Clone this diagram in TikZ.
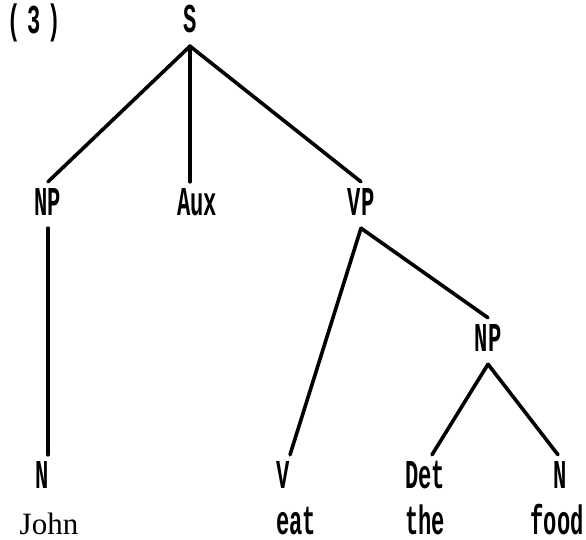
\documentclass[tikz,border=0pt]{standalone}
\usepackage{fontspec}
\newfontfamily\labfont[FakeStretch=0.54]{Liberation Mono}
\newfontfamily\wordfont{Liberation Serif}
\begin{document}
\begin{tikzpicture}[x=1pt,y=-1pt,
  cat/.style={inner sep=0pt,minimum height=46pt,text height=20pt,text depth=0pt,font=\labfont\bfseries\fontsize{41}{41}\selectfont},
  word/.style={inner sep=0pt,anchor=base,text depth=0pt,font=\labfont\bfseries\fontsize{41}{41}\selectfont},
  serifword/.style={inner sep=0pt,anchor=base,text depth=0pt,font=\wordfont\fontsize{31}{31}\selectfont},
  branch/.style={line width=3.6pt,line cap=round}]
\useasboundingbox (0,0) rectangle (586,540);
\fill[white] (0,0) rectangle (586,540);
% labels
\node[cat] (num) at (34,24) {(\hspace{7pt}3\hspace{7pt})};
\node[cat] (S) at (190,23) {S};
\node[cat] (NP) at (48,205) {NP};
\node[cat] (Aux) at (197,205) {Aux};
\node[cat] (VP) at (361,205) {VP};
\node[cat] (NPb) at (488,341) {NP};
\node[cat] (N) at (42,478) {N};
\node[cat] (V) at (283,478) {V};
\node[cat] (Det) at (425,478) {Det};
\node[cat] (Nb) at (560,478) {N};
% words
\node[serifword] (john) at (49,534) {John};
\node[word] (eat) at (296,534) {eat};
\node[word] (the) at (425,534) {the};
\node[word] (food) at (557,534) {food};
% branches
\draw[branch] (S.south) -- (NP.north);
\draw[branch] (S.south) -- (S.south |- Aux.north);
\draw[branch] (S.south) -- (VP.north);
\draw[branch] (NP.south) -- (NP.south |- N.north);
\draw[branch] (VP.south) -- ([xshift=7pt]V.north);
\draw[branch] (VP.south) -- (NPb.north);
\draw[branch] (NPb.south) -- ([xshift=7pt]Det.north);
\draw[branch] (NPb.south) -- ([xshift=-2pt]Nb.north);
\end{tikzpicture}
\end{document}
